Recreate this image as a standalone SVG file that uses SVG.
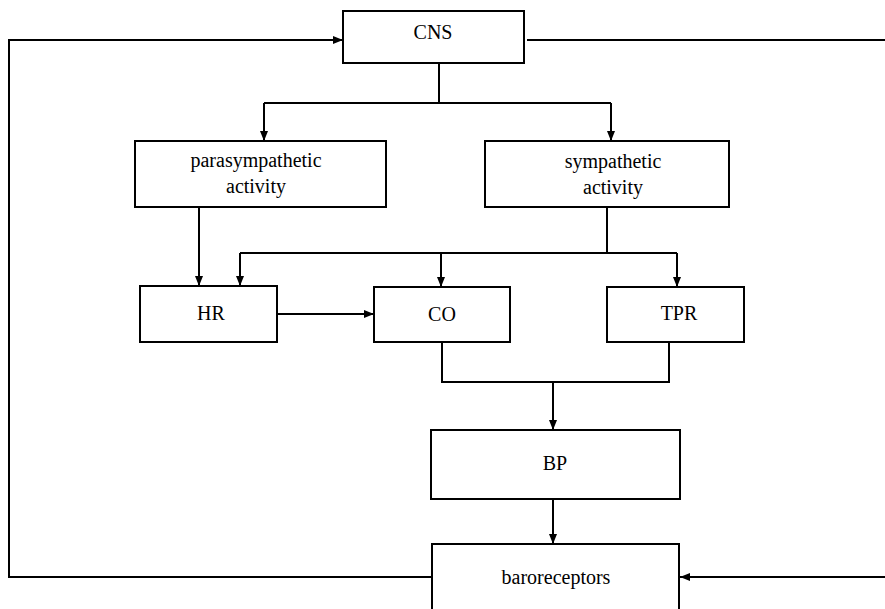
<svg xmlns="http://www.w3.org/2000/svg" width="885" height="609" viewBox="0 0 885 609">
<style>
.box{fill:#fff;stroke:#000;stroke-width:2}
.lbl{font-family:"Liberation Serif","Times New Roman",serif;font-size:20px;fill:#000;text-anchor:middle}
.ln{fill:none;stroke:#000;stroke-width:2}
</style>
<defs>
<marker id="ah" markerUnits="userSpaceOnUse" markerWidth="10" markerHeight="10" viewBox="0 0 10 10" refX="10" refY="5" orient="auto">
<path d="M0,1 L10,5 L0,9 Z" fill="#000"/>
</marker>
</defs>
<rect width="885" height="609" fill="#fff"/>
<g id="connectors">
<path class="ln" d="M432,577 H9 V40 H343" marker-end="url(#ah)"/>
<path class="ln" d="M527,40 H885"/>
<path class="ln" d="M885,577 H680" marker-end="url(#ah)"/>
<path class="ln" d="M439,63 V103"/>
<path class="ln" d="M264,103 H611"/>
<path class="ln" d="M264,103 V141" marker-end="url(#ah)"/>
<path class="ln" d="M611,103 V141" marker-end="url(#ah)"/>
<path class="ln" d="M199,207 V286" marker-end="url(#ah)"/>
<path class="ln" d="M607,207 V253"/>
<path class="ln" d="M240,253 H677"/>
<path class="ln" d="M240,253 V286" marker-end="url(#ah)"/>
<path class="ln" d="M441,253 V287" marker-end="url(#ah)"/>
<path class="ln" d="M677,253 V287" marker-end="url(#ah)"/>
<path class="ln" d="M277,314 H374" marker-end="url(#ah)"/>
<path class="ln" d="M442,342 V382 H669 V342"/>
<path class="ln" d="M553,382 V430" marker-end="url(#ah)"/>
<path class="ln" d="M553,499 V544" marker-end="url(#ah)"/>
</g>
<g id="cns"><rect class="box" x="343" y="11" width="181" height="52"/><text class="lbl" x="433" y="39">CNS</text></g>
<g id="parasympathetic"><rect class="box" x="135" y="141" width="251" height="66"/><text class="lbl" x="256" y="167">parasympathetic</text><text class="lbl" x="256" y="193">activity</text></g>
<g id="sympathetic"><rect class="box" x="485" y="141" width="244" height="66"/><text class="lbl" x="613" y="168">sympathetic</text><text class="lbl" x="613" y="194">activity</text></g>
<g id="hr"><rect class="box" x="140" y="286" width="137" height="56"/><text class="lbl" x="211" y="320">HR</text></g>
<g id="co"><rect class="box" x="374" y="287" width="136" height="55"/><text class="lbl" x="442" y="321">CO</text></g>
<g id="tpr"><rect class="box" x="607" y="287" width="137" height="55"/><text class="lbl" x="679" y="320">TPR</text></g>
<g id="bp"><rect class="box" x="431" y="430" width="249" height="69"/><text class="lbl" x="555" y="470">BP</text></g>
<g id="baroreceptors"><rect class="box" x="432" y="544" width="247" height="80"/><text class="lbl" x="556" y="584">baroreceptors</text></g>
</svg>
